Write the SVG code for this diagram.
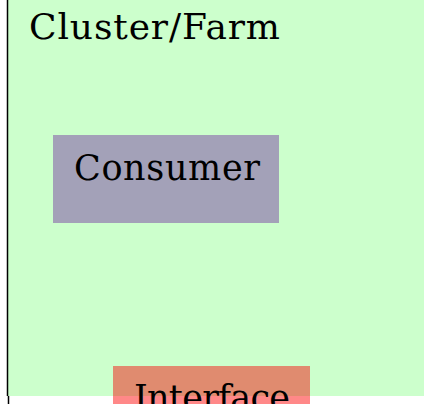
<svg xmlns="http://www.w3.org/2000/svg" width="424" height="404" viewBox="0 0 424 404">
  <style>
    .lbl { font-family: "DejaVu Serif", "Liberation Serif", serif; fill: #000000; }
    .big { font-size: 36px; }
    .mid { font-size: 35px; }
  </style>
  <rect x="0" y="0" width="424" height="404" fill="#ffffff"/>
  <g id="cluster">
    <rect x="8" y="0" width="416" height="396" fill="#ccffcc"/>
    <line x1="7.5" y1="0" x2="7.5" y2="396" stroke="#000000" stroke-width="1.5"/>
    <line x1="8.5" y1="396" x2="8.5" y2="404" stroke="#000000" stroke-width="1.5"/>
    <text class="lbl big" x="29" y="39" textLength="251" lengthAdjust="spacing">Cluster/Farm</text>
  </g>
  <g id="consumer">
    <rect x="53" y="135" width="226" height="88" fill="#a3a1b8"/>
    <text class="lbl mid" x="74" y="180" textLength="186" lengthAdjust="spacing">Consumer</text>
  </g>
  <g id="interface">
    <rect x="113" y="366" width="197" height="30" fill="#e08b6f"/>
    <rect x="113" y="396" width="197" height="8" fill="#ff8888"/>
    <text class="lbl mid" x="134" y="410" textLength="156" lengthAdjust="spacing">Interface</text>
  </g>
  <g id="connectors"/>
</svg>
